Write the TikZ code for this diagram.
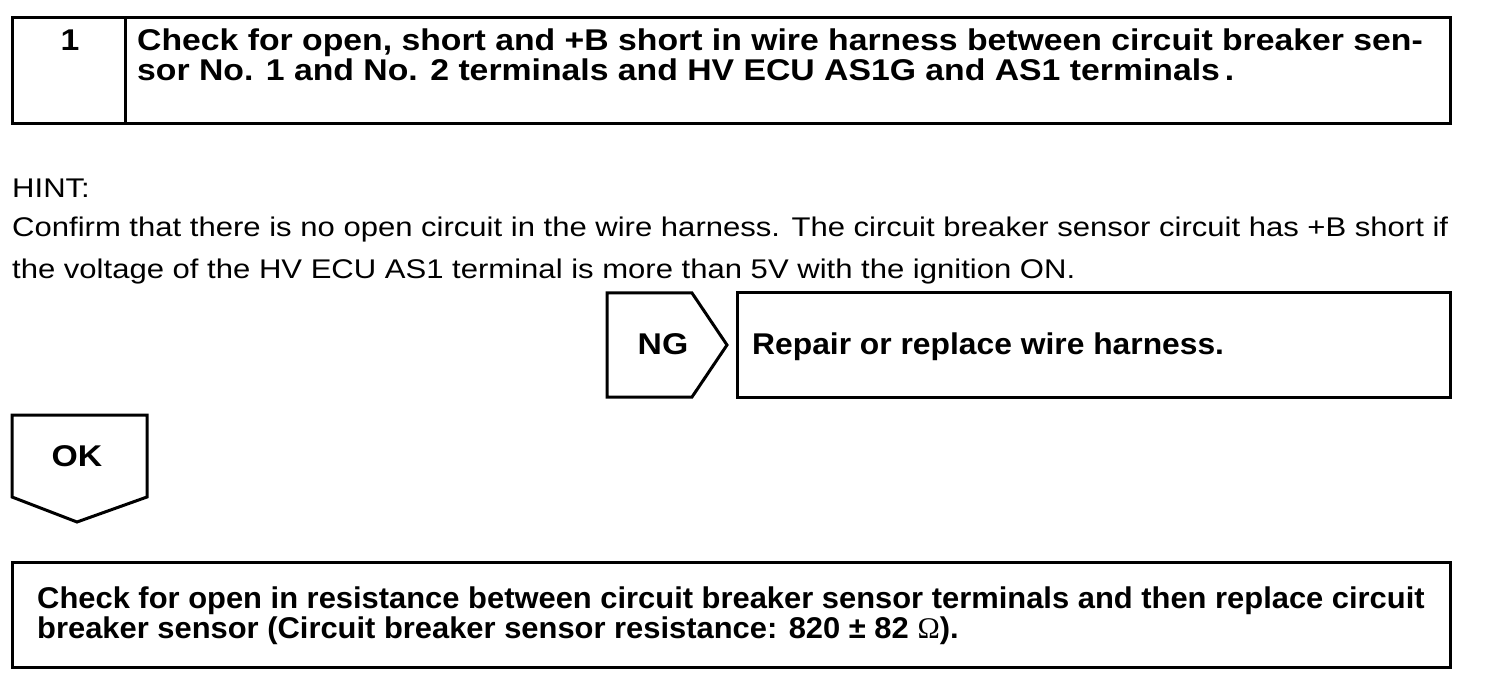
\documentclass[tikz,border=0pt]{standalone}
\usepackage{fontspec}
\setmainfont{Liberation Sans}
\newfontfamily\boldf{Liberation Sans Bold}[FakeStretch=1.125]
\newfontfamily\boldg{Liberation Sans Bold}[FakeStretch=1.06]
\newfontfamily\boldh{Liberation Sans Bold}[FakeStretch=1.03]
\newfontfamily\regf{Liberation Sans}[FakeStretch=1.15]
\begin{document}
\begin{tikzpicture}[x=1pt,y=-1pt,
  frame/.style={draw=black,line width=3pt,line join=miter},
  btxt/.style={anchor=base west,inner sep=0pt,font=\boldf\fontsize{30}{30}\selectfont},
  bctr/.style={anchor=base,inner sep=0pt,font=\boldf\fontsize{30}{30}\selectfont},
  rtxt/.style={anchor=base west,inner sep=0pt,font=\regf\fontsize{27}{27}\selectfont}]
\useasboundingbox[fill=white] (0,0) rectangle (1504,692);
% top step box
\draw[frame] (12,18) rectangle (1450,124);
\draw[frame] (125,18) -- (125,124);
\node[bctr] (num) at (70,51) {1};
\node[btxt] (t1) at (137,51) {Check for open, short and +B short in wire harness between circuit breaker sen-};
\node[btxt] (t2) at (137,81) {sor No. 1 and No. 2 terminals and HV ECU AS1G and AS1 terminals\,.};
% hint
\node[rtxt] (hint) at (12,198) {HINT:};
\node[rtxt] (h1) at (12,237) {Confirm that there is no open circuit in the wire harness. The circuit breaker sensor circuit has +B short if};
\node[rtxt] (h2) at (12,279) {the voltage of the HV ECU AS1 terminal is more than 5V with the ignition ON.};
% NG
\draw[frame] (607,293) -- (692,293) -- (727,345) -- (692,397) -- (607,397) -- cycle;
\node[bctr] (ng) at (663,355) {NG};
\draw[frame] (737,293) rectangle (1450,397);
\node[btxt,font=\boldg\fontsize{30}{30}\selectfont] (rep) at (752,355) {Repair or replace wire harness.};
% OK
\draw[frame] (12,415) -- (147,415) -- (147,497) -- (77,522) -- (12,497) -- cycle;
\node[bctr] (ok) at (77,466) {OK};
% bottom box
\draw[frame] (12,562) rectangle (1450,667);
\node[btxt,font=\boldh\fontsize{30}{30}\selectfont] (b1) at (37,608) {Check for open in resistance between circuit breaker sensor terminals and then replace circuit};
\node[btxt,font=\boldh\fontsize{30}{30}\selectfont] (b2) at (37,638) {breaker sensor (Circuit breaker sensor resistance: 820 ± 82 {\fontspec{Liberation Serif}Ω}).};
\end{tikzpicture}
\end{document}
